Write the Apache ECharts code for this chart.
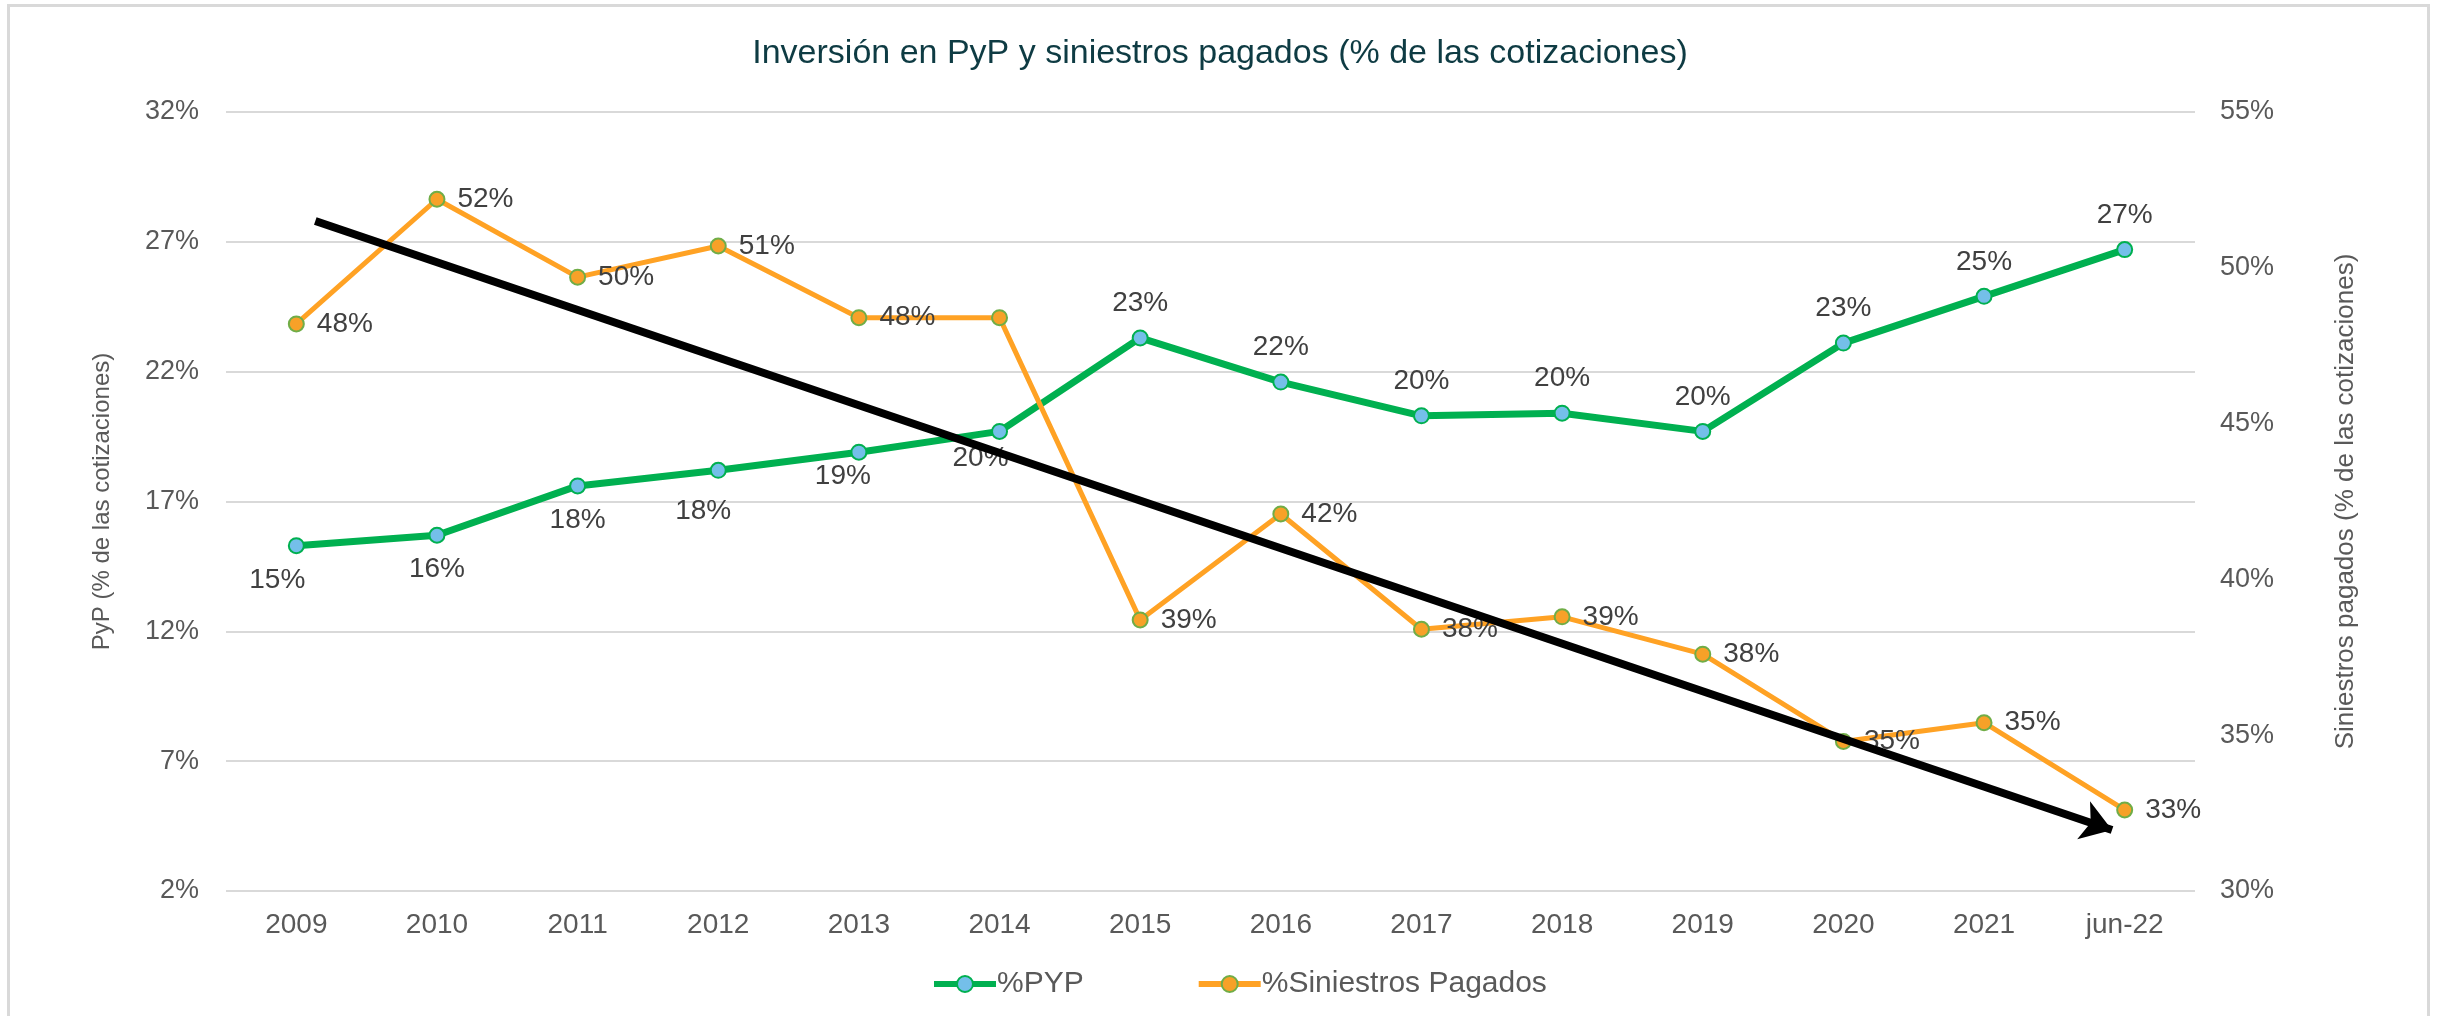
<!DOCTYPE html>
<html>
<head>
<meta charset="utf-8">
<title>Inversión en PyP y siniestros pagados</title>
<script src="https://cdn.jsdelivr.net/npm/echarts@6/dist/echarts.min.js"></script>
<style>
  html, body {
    margin: 0;
    padding: 0;
    background: #ffffff;
  }
  .frame {
    position: absolute;
    left: 7px;
    top: 4px;
    width: 2417px;
    height: 1030px;
    border: 3px solid #d9d9d9;
  }
  #chart {
    position: absolute;
    left: 0;
    top: 0;
    width: 2440px;
    height: 1016px;
  }
</style>
</head>
<body>
<div class="frame"></div>
<div id="chart"></div>
<script>
  // datos
  var years = ['2009', '2010', '2011', '2012', '2013', '2014', '2015', '2016', '2017', '2018', '2019', '2020', '2021', 'jun-22'];
  var pyp = [15.3, 15.7, 17.6, 18.2, 18.9, 19.7, 23.3, 21.6, 20.3, 20.4, 19.7, 23.1, 24.9, 26.7];
  var siniestros = [48.2, 52.2, 49.7, 50.7, 48.4, 48.4, 38.7, 42.1, 38.4, 38.8, 37.6, 34.8, 35.4, 32.6];
  var leftTicks = [2, 32, 5];
  var rightTicks = [30, 55, 5];
  // flecha de tendencia (indice de categoria, valor eje derecho)
  var trendFrom = [0.135, 51.5];
  var trendTo = [12.91, 31.96];

  var gray = '#595959';
  var labelGray = '#404040';
  var font = 'Liberation Sans';

  var pctFormatter = function (p) {
    return Math.round(p.value) + '%';
  };

  // etiquetas de PyP: debajo las primeras seis, arriba el resto
  var pypData = pyp.map(function (v, i) {
    var item = {value: v};
    if (i < 6) {
      item.label = {position: 'bottom', distance: 12};
      if (i === 0) item.label.offset = [-19, 0];
      if (i === 3) item.label.offset = [-15, 6];
      if (i === 4) item.label.offset = [-16, -10];
      if (i === 5) item.label.offset = [-19, -8];
    }
    return item;
  });

  var sinData = siniestros.map(function (v, i) {
    var item = {value: v};
    if (i === 5) item.label = {show: false};
    return item;
  });

  var chart = echarts.init(document.getElementById('chart'));
  chart.setOption({
    animation: false,
    title: {
      text: 'Inversión en PyP y siniestros pagados (% de las cotizaciones)',
      left: 'center',
      top: 32,
      textStyle: {
        fontFamily: font,
        fontSize: 34,
        fontWeight: 'normal',
        color: '#0e3b43'
      }
    },
    legend: {
      data: ['%PYP', '%Siniestros Pagados'],
      bottom: 12,
      left: 926,
      itemGap: 112,
      itemWidth: 62,
      itemHeight: 20,
      lineStyle: {width: 6},
      textStyle: {
        fontFamily: font,
        fontSize: 30,
        color: gray,
        padding: [0, 0, 0, -4]
      }
    },
    grid: {
      left: 226,
      right: 245,
      top: 112,
      bottom: 125
    },
    xAxis: [
      {
        type: 'category',
        data: years,
        axisLine: {show: false},
        axisTick: {show: false},
        axisLabel: {
          fontFamily: font,
          fontSize: 28,
          color: gray,
          margin: 20
        }
      },
      {
        type: 'value',
        min: -0.5,
        max: 13.5,
        show: false
      }
    ],
    yAxis: [
      {
        type: 'value',
        min: leftTicks[0],
        max: leftTicks[1],
        interval: leftTicks[2],
        name: 'PyP (% de las cotizaciones)',
        nameLocation: 'middle',
        nameRotate: 90,
        nameGap: 112,
        nameTextStyle: {
          fontFamily: font,
          fontSize: 24,
          color: gray
        },
        axisLine: {show: false},
        axisTick: {show: false},
        axisLabel: {
          fontFamily: font,
          fontSize: 27,
          color: gray,
          margin: 27,
          formatter: '{value}%'
        },
        splitLine: {
          lineStyle: {color: '#d9d9d9', width: 2}
        }
      },
      {
        type: 'value',
        position: 'right',
        min: rightTicks[0],
        max: rightTicks[1],
        interval: rightTicks[2],
        name: 'Siniestros pagados (% de las cotizaciones)',
        nameLocation: 'middle',
        nameRotate: 90,
        nameGap: 138,
        nameTextStyle: {
          fontFamily: font,
          fontSize: 26,
          color: gray
        },
        axisLine: {show: false},
        axisTick: {show: false},
        axisLabel: {
          fontFamily: font,
          fontSize: 27,
          color: gray,
          margin: 25,
          formatter: '{value}%'
        },
        splitLine: {show: false}
      }
    ],
    series: [
      {
        name: '%PYP',
        type: 'line',
        xAxisIndex: 0,
        yAxisIndex: 0,
        data: pypData,
        symbol: 'circle',
        symbolSize: 15,
        lineStyle: {color: '#00b050', width: 7},
        itemStyle: {color: '#74bfe9', borderColor: '#00b050', borderWidth: 2},
        label: {
          show: true,
          position: 'top',
          distance: 12,
          fontFamily: font,
          fontSize: 28,
          color: labelGray,
          formatter: pctFormatter
        },
        z: 3
      },
      {
        name: '%Siniestros Pagados',
        type: 'line',
        xAxisIndex: 0,
        yAxisIndex: 1,
        data: sinData,
        symbol: 'circle',
        symbolSize: 15,
        lineStyle: {color: '#ffa224', width: 5},
        itemStyle: {color: '#f7a128', borderColor: '#70ad47', borderWidth: 2},
        label: {
          show: true,
          position: 'right',
          distance: 12,
          fontFamily: font,
          fontSize: 28,
          color: labelGray,
          formatter: pctFormatter
        },
        z: 3
      },
      {
        name: 'tendencia',
        type: 'lines',
        coordinateSystem: 'cartesian2d',
        xAxisIndex: 1,
        yAxisIndex: 1,
        silent: true,
        symbol: ['none', 'arrow'],
        symbolSize: 30,
        lineStyle: {color: '#000000', width: 8, opacity: 1},
        data: [{coords: [trendFrom, trendTo]}],
        z: 10
      }
    ]
  });
</script>
</body>
</html>
